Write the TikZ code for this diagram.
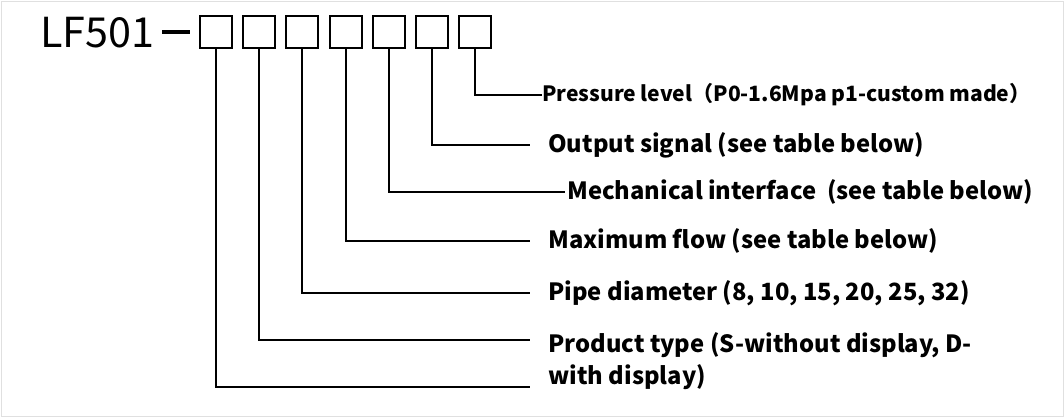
\documentclass[tikz,border=0pt]{standalone}
\usepackage{fontspec}
\setmainfont{Noto Sans CJK SC}
\usetikzlibrary{positioning}
\tikzset{
  digit/.style={draw,minimum width=32\px,minimum height=32\px,inner sep=0pt,line width=0.9pt},
  lead/.style={line width=0.9pt},
  desc/.style={anchor=west,inner sep=0pt,font=\bfseries\fontsize{17.8}{24.5}\selectfont,align=left}
}
\newlength{\px}\setlength{\px}{0.75pt}
\begin{document}
\begin{tikzpicture}[x=0.75pt,y=-0.75pt]
      \useasboundingbox (0,0) rectangle (1064,417);
      \draw[black!12] (1,1) rectangle (1063,416);

      \node[anchor=west,inner sep=0pt,font=\fontsize{31}{36}\selectfont] at (40,33) (model) {LF501};
      \draw[line width=3pt] (162,32) -- (190,32);

      \node[digit] at (216,32) (b1) {};
      \node[digit] at (259,32) (b2) {};
      \node[digit] at (302,32) (b3) {};
      \node[digit] at (346,32) (b4) {};
      \node[digit] at (389,32) (b5) {};
      \node[digit] at (432,32) (b6) {};
      \node[digit] at (475,32) (b7) {};

      \node[desc,font=\bfseries\fontsize{15.8}{20}\selectfont] at (542,95) (press) {Pressure level（P0-1.6Mpa p1-custom made）};
      \node[desc] at (548,145) (output) {Output signal (see table below)};
      \node[desc] at (567,192) (mech) {Mechanical interface\ \ (see table below)};
      \node[desc] at (548,241) (flow) {Maximum flow (see table below)};
      \node[desc] at (548,293) (pipe) {Pipe diameter (8, 10, 15, 20, 25, 32)};
      \node[desc] at (548,361) (prod) {Product type (S-without display, D-\\with display)};

      \coordinate (e1) at (530,387);
      \coordinate (e2) at (530,340);

      \draw[lead] (b7.south) |- (press.west);
      \draw[lead] (b6.south) |- ([xshift=-18\px]output.west);
      \draw[lead] (b5.south) |- ([xshift=-2\px]mech.west);
      \draw[lead] (b4.south) |- ([xshift=-18\px]flow.west);
      \draw[lead] (b3.south) |- ([xshift=-18\px]pipe.west);
      \draw[lead] (b2.south) |- (e2);
      \draw[lead] (b1.south) |- (e1);
    \end{tikzpicture}
\end{document}
